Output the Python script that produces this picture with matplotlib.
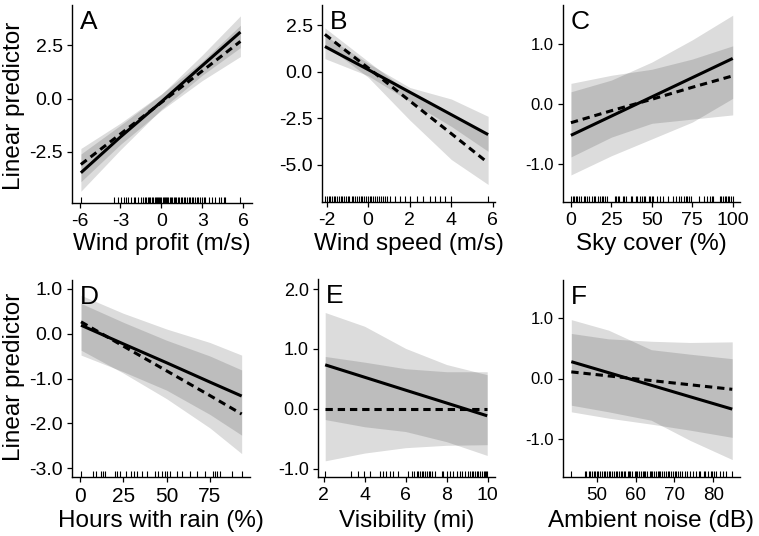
import numpy as np
import matplotlib.pyplot as plt

plt.rcParams['font.family'] = ['Liberation Sans', 'DejaVu Sans']
plt.rcParams['axes.unicode_minus'] = False

W, H = 759, 536

# A - wind profit
a_x = [-5.9, -3, 0, 3, 5.8]
a_solid = [-3.48, -1.80, -0.15, 1.55, 3.13]
a_dash = [-3.09, -1.66, -0.18, 1.30, 2.69]
a_solid_lo = [-4.35, -2.40, -0.50, 1.10, 2.40]
a_solid_hi = [-2.60, -1.25, 0.20, 2.05, 3.89]
a_dash_lo = [-3.90, -2.15, -0.55, 0.85, 1.98]
a_dash_hi = [-2.34, -1.15, 0.22, 1.75, 3.45]
a_rug = [-5.9, -3.46, -3.16, -2.96, -2.77, -2.59, -2.42, -2.22, -2.02, -1.9, -1.73,
         -1.48, -1.35, -1.22, -1.1, -1.0, -0.88, -0.8, -0.7, -0.6, -0.5, -0.42, -0.33,
         -0.25, -0.15, -0.08, 0.0, 0.1, 0.18, 0.25, 0.35, 0.42, 0.5, 0.62, 0.7, 0.8,
         0.9, 1.0, 1.1, 1.2, 1.3, 1.42, 1.55, 1.65, 1.75, 1.88, 2.0, 2.1, 2.22, 2.35,
         2.5, 2.6, 2.72, 2.85, 3.0, 3.12, 3.21, 3.46, 3.7, 3.95, 4.2, 4.4, 4.57, 4.7, 5.8]

# B - wind speed
b_x = [-2.08, 0, 2, 4, 5.77]
b_solid = [1.35, 0.11, -1.10, -2.31, -3.38]
b_dash = [2.0, 0.20, -1.57, -3.33, -4.9]
b_solid_lo = [0.70, -0.22, -1.60, -2.94, -4.28]
b_solid_hi = [1.95, 0.45, -0.85, -1.47, -2.40]
b_dash_lo = [1.45, -0.30, -2.60, -4.72, -6.06]
b_dash_hi = [2.35, 0.55, -1.15, -2.40, -3.40]
b_rug = [-2.08, -2.0, -1.9, -1.82, -1.75, -1.65, -1.58, -1.5, -1.4, -1.32, -1.25, -1.15,
         -1.05, -0.98, -0.9, -0.8, -0.72, -0.62, -0.55, -0.45, -0.35, -0.28, -0.2, -0.1,
         0.0, 0.08, 0.15, 0.25, 0.35, 0.42, 0.5, 0.6, 0.7, 0.8, 0.9, 1.04, 1.28, 1.52,
         1.76, 2.0, 2.33, 2.64, 2.97, 3.21, 3.45, 3.69, 4.0, 5.77]

# C - sky cover
c_x = [0, 25, 50, 75, 100]
c_solid = [-0.52, -0.20, 0.12, 0.44, 0.76]
c_dash = [-0.31, -0.11, 0.08, 0.28, 0.47]
c_solid_lo = [-1.18, -0.86, -0.58, -0.30, 0.095]
c_solid_hi = [0.205, 0.40, 0.70, 1.07, 1.48]
c_dash_lo = [-0.88, -0.55, -0.32, -0.25, -0.18]
c_dash_hi = [0.345, 0.48, 0.58, 0.75, 0.97]
c_rug = [0, 1, 2, 3, 4, 5, 6, 8, 9, 10, 11, 13, 14, 15, 17, 18, 19, 20, 21, 22, 27, 28,
         29, 30, 32, 33, 34, 37, 38, 40, 41, 43, 44, 45, 46, 48, 49, 50, 51, 53, 55, 57,
         60, 63, 65, 67, 68, 70, 71, 72, 73, 74, 79, 82, 84, 86, 87, 88, 92, 93, 94, 95,
         96, 97, 98, 99, 100]

# D - hours with rain
d_x = [0.6, 25, 50, 75, 93.3]
d_solid = [0.185, -0.23, -0.65, -1.08, -1.39]
d_dash = [0.26, -0.28, -0.83, -1.38, -1.79]
d_solid_lo = [-0.48, -0.85, -1.26, -1.80, -2.26]
d_solid_hi = [0.85, 0.45, 0.10, -0.20, -0.48]
d_dash_lo = [-0.37, -0.88, -1.45, -2.10, -2.67]
d_dash_hi = [0.67, 0.25, -0.15, -0.50, -0.81]
d_rug = [0.6, 7.7, 9.2, 11.9, 13.5, 14.4, 20.2, 21.5, 23.1, 26.5, 29.2, 31.2, 32.7, 35.6,
         38.5, 43.3, 45.2, 47.1, 49.0, 50.0, 51.9, 55.8, 58.7, 63.5, 67.3, 72.1, 76.9,
         77.9, 78.8, 80.8, 87.5, 93.3]

# E - visibility
e_x = [2.08, 4, 6, 8, 9.98]
e_solid = [0.735, 0.528, 0.312, 0.097, -0.117]
e_dash = [0.0, 0.0, 0.0, 0.0, 0.0]
e_solid_lo = [-0.18, -0.30, -0.38, -0.55, -0.78]
e_solid_hi = [1.61, 1.38, 1.01, 0.74, 0.57]
e_dash_lo = [-0.87, -0.74, -0.65, -0.61, -0.60]
e_dash_hi = [0.875, 0.78, 0.67, 0.62, 0.62]
e_rug = [2.08, 3.33, 3.67, 3.95, 4.27, 4.73, 4.89, 5.05, 5.25, 5.41, 5.65, 6.14, 6.3,
         6.41, 6.55, 6.62, 6.7, 6.78, 6.87, 6.95, 7.03, 7.14, 7.2, 7.27, 7.44, 7.76,
         7.84, 8.0, 8.17, 8.33, 8.49, 8.65, 8.73, 8.9, 9.06, 9.14, 9.22, 9.3, 9.38,
         9.46, 9.54, 9.62, 9.71, 9.8, 9.87, 9.93, 9.98]

# F - ambient noise
f_x = [43.4, 53, 64, 74, 84.9]
f_solid = [0.28, 0.097, -0.112, -0.303, -0.51]
f_dash = [0.11, 0.043, -0.034, -0.104, -0.18]
f_solid_lo = [-0.445, -0.555, -0.695, -1.03, -1.35]
f_solid_hi = [0.98, 0.805, 0.48, 0.405, 0.33]
f_dash_lo = [-0.555, -0.66, -0.76, -0.86, -0.98]
f_dash_hi = [0.75, 0.66, 0.62, 0.60, 0.61]
f_rug = [43.4, 47.0, 47.3, 47.9, 48.2, 48.8, 49.3, 49.6, 50.1, 50.4, 50.9, 51.4, 51.8,
         52.1, 52.7, 53.1, 53.4, 53.9, 54.5, 54.8, 55.2, 55.6, 56.1, 56.6, 57.0, 57.3,
         57.9, 58.3, 58.6, 59.1, 59.7, 60.0, 60.4, 60.8, 61.3, 61.8, 62.2, 62.5, 63.0,
         63.6, 63.9, 64.3, 64.7, 65.2, 65.7, 66.1, 66.4, 66.9, 67.4, 67.8, 68.3, 68.7,
         69.0, 69.5, 70.1, 70.4, 70.8, 71.3, 71.9, 72.6, 73.3, 74.1, 74.8, 75.6, 76.2,
         76.7, 77.5, 78.0, 78.6, 79.3, 79.7, 80.3, 80.8, 81.7, 82.5, 83.4, 84.9]

panels = [
    ('A', 'Wind profit (m/s)', a_x, a_solid, a_dash, a_solid_lo, a_solid_hi, a_dash_lo, a_dash_hi, a_rug,
     (-6.55, 6.65), (-4.9, 4.4), [-6, -3, 0, 3, 6], [-2.5, 0, 2.5]),
    ('B', 'Wind speed (m/s)', b_x, b_solid, b_dash, b_solid_lo, b_solid_hi, b_dash_lo, b_dash_hi, b_rug,
     (-2.22, 6.1), (-7.0, 3.58), [-2, 0, 2, 4, 6], [-5, -2.5, 0, 2.5]),
    ('C', 'Sky cover (%)', c_x, c_solid, c_dash, c_solid_lo, c_solid_hi, c_dash_lo, c_dash_hi, c_rug,
     (-4.9, 104.5), (-1.63, 1.65), [0, 25, 50, 75, 100], [-1, 0, 1]),
    ('D', 'Hours with rain (%)', d_x, d_solid, d_dash, d_solid_lo, d_solid_hi, d_dash_lo, d_dash_hi, d_rug,
     (-4.6, 98.1), (-3.19, 1.19), [0, 25, 50, 75], [-3, -2, -1, 0, 1]),
    ('E', 'Visibility (mi)', e_x, e_solid, e_dash, e_solid_lo, e_solid_hi, e_dash_lo, e_dash_hi, e_rug,
     (1.73, 10.36), (-1.14, 2.17), [2, 4, 6, 8, 10], [-1, 0, 1, 2]),
    ('F', 'Ambient noise (dB)', f_x, f_solid, f_dash, f_solid_lo, f_solid_hi, f_dash_lo, f_dash_hi, f_rug,
     (41.26, 86.9), (-1.64, 1.64), [50, 60, 70, 80], [-1, 0, 1]),
]

# plot boxes in pixels: left, right, top, bottom
boxes = [(72, 252, 5, 203), (322, 495, 5, 202), (563, 740, 5, 202),
         (72, 250, 280, 477), (318, 495, 279, 477), (563, 740, 280, 477)]
label_base = [250, 250, 250, 527, 527, 527]
# tick label sizes differ a little between panels in the original
xtick_size = [14, 14, 14, 15, 14, 13.5]
ytick_size = [14, 14, 12, 14, 13, 12]

fig = plt.figure(figsize=(W / 100, H / 100), dpi=100)

for i, (p, box, lb) in enumerate(zip(panels, boxes, label_base)):
    (letter, xlabel, x, sol, das, slo, shi, dlo, dhi, rug, xl, yl, xt, yt) = p
    l, r, t, b = box
    ax = fig.add_axes([l / W, 1 - b / H, (r - l) / W, (b - t) / H])
    ax.fill_between(x, slo, shi, color='black', alpha=0.137, lw=0)
    ax.fill_between(x, dlo, dhi, color='black', alpha=0.137, lw=0)
    ax.plot(x, sol, color='black', lw=2.2, solid_capstyle='butt')
    ax.plot(x, das, color='black', lw=2.2, dashes=(2.4, 1.6), dash_capstyle='butt')
    ax.vlines(rug, 0, 6.0 / (b - t), color='black', lw=0.8,
              transform=ax.get_xaxis_transform())
    ax.set_xlim(xl)
    ax.set_ylim(yl)
    ax.set_xticks(xt)
    ax.set_xticklabels([str(v) for v in xt])
    ax.set_yticks(yt)
    ax.set_yticklabels(['%.1f' % v for v in yt])
    for s in ['top', 'right']:
        ax.spines[s].set_visible(False)
    for s in ['left', 'bottom']:
        ax.spines[s].set_linewidth(1.0)
    ax.tick_params(axis='x', direction='out', length=3.6, width=0.9,
                   labelsize=xtick_size[i], pad=3.5)
    ax.tick_params(axis='y', direction='out', length=3.6, width=0.9,
                   labelsize=ytick_size[i], pad=3)
    ax.text(0.045, 0.975, letter, transform=ax.transAxes, fontsize=19, va='top', ha='left')
    fig.text((l + r) / 2 / W, 1 - lb / H, xlabel, ha='center', va='baseline', fontsize=17.5)

fig.text(14 / W, 1 - 106 / H, 'Linear predictor', rotation=90, ha='center', va='center', fontsize=17.5)
fig.text(14 / W, 1 - 377 / H, 'Linear predictor', rotation=90, ha='center', va='center', fontsize=17.5)

fig.savefig('out.png', dpi=100)
